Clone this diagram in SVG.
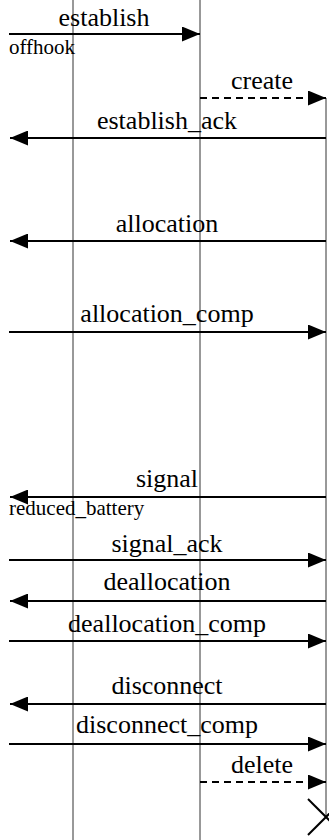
<svg xmlns="http://www.w3.org/2000/svg" width="329" height="840" viewBox="0 0 329 840">
<style>
.life{stroke:#333;stroke-width:1;fill:none}
.msg{stroke:#000;stroke-width:2;fill:none}
.dash{stroke-dasharray:7,5}
.lbl{font-family:'Liberation Serif','Times New Roman',serif;font-size:26px;fill:#000;text-anchor:middle}
.note{font-family:'Liberation Serif','Times New Roman',serif;font-size:21px;fill:#000}
</style>
<defs>
<marker id="ah" viewBox="0 0 18 15" refX="18" refY="7.5" markerWidth="18" markerHeight="15" markerUnits="userSpaceOnUse" orient="auto">
<path d="M0,0 L18,7.5 L0,15 Z" fill="#000"/>
</marker>
</defs>
<g id="lifelines">
<line id="ll1" class="life" x1="73" y1="0" x2="73" y2="840"/>
<line id="ll2" class="life" x1="200" y1="0" x2="200" y2="840"/>
<line id="ll3" class="life" x1="326" y1="98" x2="326" y2="817"/>
</g>
<g id="connectors">
<line class="msg" x1="9" y1="34" x2="200" y2="34" marker-end="url(#ah)"/>
<line class="msg dash" x1="200" y1="98" x2="326" y2="98" marker-end="url(#ah)"/>
<line class="msg" x1="326" y1="138" x2="10" y2="138" marker-end="url(#ah)"/>
<line class="msg" x1="326" y1="241" x2="10" y2="241" marker-end="url(#ah)"/>
<line class="msg" x1="9" y1="332" x2="326" y2="332" marker-end="url(#ah)"/>
<line class="msg" x1="326" y1="497" x2="10" y2="497" marker-end="url(#ah)"/>
<line class="msg" x1="9" y1="560" x2="326" y2="560" marker-end="url(#ah)"/>
<line class="msg" x1="326" y1="601" x2="10" y2="601" marker-end="url(#ah)"/>
<line class="msg" x1="9" y1="641" x2="326" y2="641" marker-end="url(#ah)"/>
<line class="msg" x1="326" y1="704" x2="10" y2="704" marker-end="url(#ah)"/>
<line class="msg" x1="9" y1="744" x2="326" y2="744" marker-end="url(#ah)"/>
<line class="msg dash" x1="200" y1="782" x2="326" y2="782" marker-end="url(#ah)"/>
<line class="msg" x1="308" y1="799" x2="344" y2="835"/>
<line class="msg" x1="344" y1="799" x2="308" y2="835"/>
</g>
<g id="labels">
<text class="lbl" x="104" y="26">establish</text>
<text class="note" x="9" y="54">offhook</text>
<text class="lbl" x="262" y="89">create</text>
<text class="lbl" x="167" y="129">establish_ack</text>
<text class="lbl" x="167" y="232">allocation</text>
<text class="lbl" x="167" y="322">allocation_comp</text>
<text class="lbl" x="167" y="487">signal</text>
<text class="note" x="9" y="515">reduced_battery</text>
<text class="lbl" x="167" y="552">signal_ack</text>
<text class="lbl" x="167" y="590">deallocation</text>
<text class="lbl" x="167" y="632">deallocation_comp</text>
<text class="lbl" x="167" y="694">disconnect</text>
<text class="lbl" x="167" y="733">disconnect_comp</text>
<text class="lbl" x="262" y="773">delete</text>
</g>
</svg>
